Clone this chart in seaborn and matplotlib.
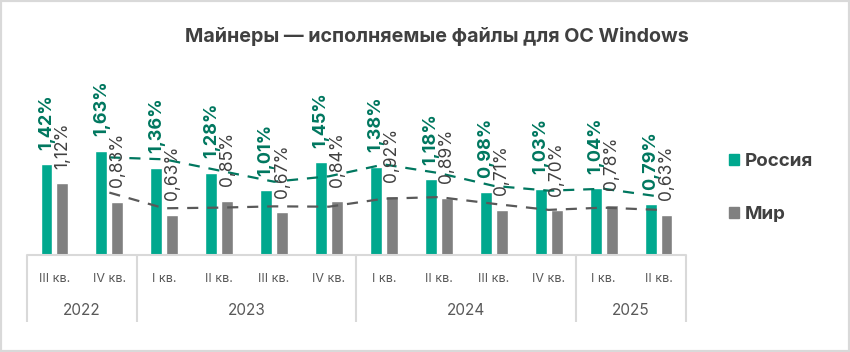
import numpy as np
import pandas as pd
import seaborn as sns
import matplotlib.pyplot as plt
from matplotlib.patches import Rectangle

# данные
quarters = ['III кв.', 'IV кв.', 'I кв.', 'II кв.', 'III кв.', 'IV кв.',
            'I кв.', 'II кв.', 'III кв.', 'IV кв.', 'I кв.', 'II кв.']
years = ['2022', '2023', '2024', '2025']
year_spans = [2, 4, 4, 2]
russia = [1.42, 1.63, 1.36, 1.28, 1.01, 1.45, 1.38, 1.18, 0.98, 1.03, 1.04, 0.79]
world = [1.12, 0.83, 0.63, 0.85, 0.67, 0.84, 0.92, 0.89, 0.71, 0.70, 0.78, 0.63]
series = ['Россия', 'Мир']

c_ru = '#00a88e'
c_ru_dark = '#00775f'
c_world = '#808080'
c_world_dark = '#595959'
c_grid = '#d9d9d9'
c_text = '#404040'

sns.set_style('white')
plt.rcParams['font.family'] = ['Inter', 'DejaVu Sans']

n = len(quarters)
cat = [f'{i}' for i in range(n)]
df = pd.DataFrame({
    'cat': cat * 2,
    'value': russia + world,
    'series': [series[0]] * n + [series[1]] * n,
})

fig = plt.figure(figsize=(8.5, 3.52), dpi=100)
ax = fig.add_axes([27 / 850, 97 / 352, 659 / 850, 195 / 352])

sns.barplot(data=df, x='cat', y='value', hue='series', order=cat,
            palette=[c_ru, c_world], width=0.58, gap=0.25, ax=ax,
            saturation=1, legend=False)

ax.set_xlim(-0.5, n - 0.5)
ax.set_ylim(0, 195 / 64)
ax.axis('off')

# подписи значений
def fmt(v):
    return f'{v:.2f}%'.replace('.', ',')

ax.bar_label(ax.containers[0], labels=[fmt(v) for v in russia], rotation=90,
             padding=10.5, fontsize=13, fontweight='bold', color=c_ru_dark)
ax.bar_label(ax.containers[1], labels=[fmt(v) for v in world], rotation=90,
             padding=10.5, fontsize=12.5, color=c_text)

# скользящее среднее (2 периода)
x = np.arange(n)
ma_ru = pd.Series(russia).rolling(2).mean()
ma_world = pd.Series(world).rolling(2).mean()
ax.plot(x, ma_ru, ls=(0, (5, 4)), color=c_ru_dark, lw=1.6)
ax.plot(x, ma_world, ls=(0, (5, 4)), color=c_world_dark, lw=1.6)

# таблица оси X
ax.plot([-0.5, n - 0.5], [0, 0], color=c_grid, lw=1.5, clip_on=False)
tr = ax.get_xaxis_transform()
bounds = np.concatenate([[0], np.cumsum(year_spans)]) - 0.5
ax.vlines(bounds, -0.344, 0, transform=tr, color=c_grid, lw=1.5, clip_on=False)
for i, q in enumerate(quarters):
    ax.text(i, -0.123, q, transform=tr, ha='center', va='center',
            fontsize=9, color=c_world_dark)
for b0, b1, y in zip(bounds[:-1], bounds[1:], years):
    ax.text((b0 + b1) / 2, -0.287, y, transform=tr, ha='center', va='center',
            fontsize=11, color=c_world_dark)

# легенда
handles = [Rectangle((0, 0), 1, 1, color=c_ru), Rectangle((0, 0), 1, 1, color=c_world)]
leg = fig.legend(handles, series, loc='center left', bbox_to_anchor=(712 / 850, 1 - 188 / 352),
                 frameon=False, handlelength=0.55, handleheight=0.55, handletextpad=0.3,
                 labelspacing=1.9, prop={'weight': 'bold', 'size': 13.5})
for t in leg.get_texts():
    t.set_color(c_text)

fig.text(437 / 850, 1 - 37 / 352, 'Майнеры — исполняемые файлы для ОС Windows',
         ha='center', va='center', fontsize=14.2, fontweight='bold', color=c_text)

fig.patches.append(Rectangle((0, 0), 1, 1, transform=fig.transFigure, fill=False,
                             edgecolor=c_grid, lw=3))

fig.savefig('out.png', dpi=100, facecolor='white')
